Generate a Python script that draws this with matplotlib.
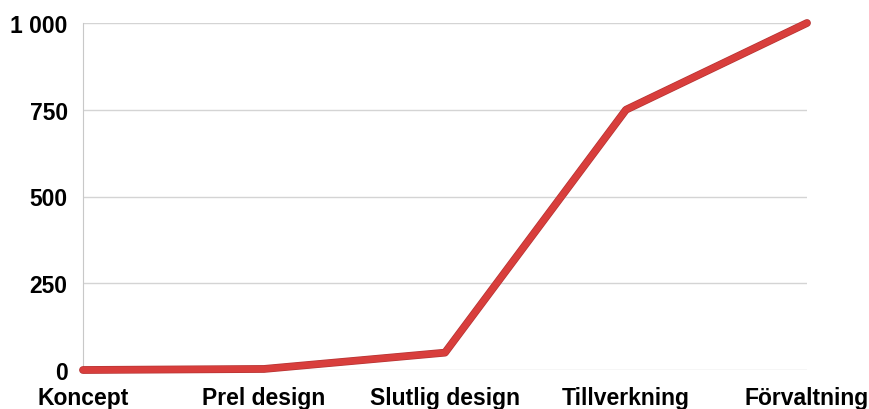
import matplotlib
matplotlib.use("Agg")
import matplotlib.pyplot as plt
import matplotlib.patheffects as pe

categories = ["Koncept", "Prel design", "Slutlig design", "Tillverkning", "Förvaltning"]
values = [0, 3, 50, 750, 1000]
yticks = [0, 250, 500, 750, 1000]
ytick_labels = ["0", "250", "500", "750", "1 000"]

plt.rcParams['font.family'] = ['Liberation Sans', 'DejaVu Sans']

fig = plt.figure(figsize=(8.69, 4.10), dpi=100)
ax = fig.add_axes([83/869, 1-371/410, (807-83)/869, (371-24)/410])

x = list(range(len(categories)))
ax.plot(x, values, color="#d83e3c", lw=4.6, solid_capstyle="round", solid_joinstyle="round",
        path_effects=[pe.Stroke(linewidth=5.6, foreground="#b53333"), pe.Normal()], zorder=3, clip_on=False)

ax.set_xlim(0, len(categories)-1)
ax.set_ylim(0, 1000)
ax.set_yticks(yticks)
ax.set_yticklabels(ytick_labels, fontsize=16.5, fontweight="bold")
ax.set_xticks(x)
ax.set_xticklabels(categories, fontsize=16.5, fontweight="bold")
ax.grid(axis="y", color="#d4d4d4", lw=1)
ax.set_axisbelow(True)
for s in ["top", "right", "bottom"]:
    ax.spines[s].set_visible(False)
ax.spines["left"].set_color("#c8c8c8")
ax.tick_params(axis="y", length=0, pad=11)
ax.tick_params(axis="x", length=0, pad=11.5)

fig.savefig("out.png", dpi=100)
